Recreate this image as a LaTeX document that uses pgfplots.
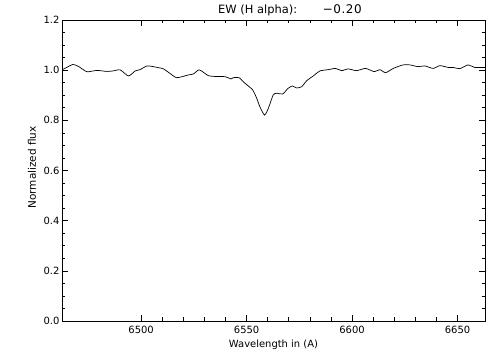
\documentclass[border=0pt]{standalone}
\usepackage{fontspec}
\setmainfont{DejaVu Sans}
\usepackage{pgfplots}
\pgfplotsset{compat=1.18}
\begin{document}
\begin{tikzpicture}
\path[use as bounding box] (-62bp,-39bp) rectangle (442bp,321bp);
\begin{axis}[
  at={(0,0)}, anchor=south west,
  scale only axis, width=423bp, height=301bp,
  xmin=6462.5, xmax=6663, ymin=0, ymax=1.2,
  xtick={6500,6550,6600,6650}, minor x tick num=4,
  ytick={0,0.2,0.4,0.6,0.8,1.0,1.2}, minor y tick num=3,
  tick align=inside, tick pos=both,
  major tick length=6bp, minor tick length=3.5bp,
  axis line style={line width=0.8bp},
  every tick/.style={black, line width=0.6bp},
  /pgf/number format/assume math mode=true,
  xticklabel style={/pgf/number format/1000 sep={}, font=\fontsize{10}{12}\selectfont, yshift=-1.5bp},
  yticklabel style={/pgf/number format/.cd, fixed, fixed zerofill, precision=1, /tikz/.cd, font=\fontsize{10}{12}\selectfont, xshift=1bp},
  xlabel={Wavelength in (A)},
  xlabel style={at={(axis description cs:0.5,0)}, anchor=north, inner sep=0pt, yshift=-18.5bp, font=\fontsize{10}{12}\selectfont},
  ylabel={Normalized flux},
  ylabel style={at={(axis description cs:-0.071,0.51)}, anchor=center, rotate=0, inner sep=0pt, font=\fontsize{10.5}{12}\selectfont},
  clip mode=individual,
]
\addplot[black, line width=0.7bp, smooth, tension=0.4] coordinates {
(6462.6,1.002) (6465.0,1.012) (6467.7,1.023) (6470.5,1.014) (6474.3,0.994)
(6479.0,0.999) (6483.8,0.995) (6486.7,0.997) (6490.1,1.001) (6494.0,0.977)
(6497.2,0.997) (6499.5,1.002) (6503.0,1.017) (6508.2,1.010) (6510.6,1.005)
(6513.7,0.987) (6516.9,0.970) (6522.4,0.981) (6524.8,0.985) (6527.6,1.001)
(6531.9,0.978) (6535.0,0.975) (6539.8,0.974) (6542.6,0.965) (6543.7,0.970)
(6546.4,0.970) (6549.2,0.948) (6552.8,0.922) (6554.8,0.888) (6556.3,0.854)
(6558.5,0.821) (6560.3,0.848) (6562.6,0.901) (6564.3,0.908) (6567.1,0.905)
(6569.7,0.928) (6571.8,0.937) (6573.7,0.929) (6576.1,0.934) (6578.5,0.958)
(6581.6,0.977) (6584.8,0.997) (6588.7,1.002) (6592.2,1.007) (6595.0,0.998)
(6598.2,1.005) (6602.1,0.998) (6606.4,1.007) (6610.5,0.994) (6613.2,1.002)
(6615.9,0.990) (6619.5,1.007) (6624.2,1.021) (6627.4,1.021) (6631.3,1.014)
(6634.5,1.017) (6638.4,1.007) (6641.6,1.018) (6645.5,1.011) (6647.9,1.011)
(6651.0,1.006) (6655.0,1.021) (6658.1,1.011) (6662.9,1.011)
};
\node[anchor=base west, inner sep=0pt, font=\fontsize{11.5}{13}\selectfont] at (rel axis cs:0.3688,1.0223) {EW (H alpha):};
\node[anchor=base east, inner sep=0pt, font=\fontsize{12}{13}\selectfont\addfontfeature{LetterSpace=5}] at (rel axis cs:0.7092,1.0223) {−0.20};
\end{axis}
\end{tikzpicture}
\end{document}
